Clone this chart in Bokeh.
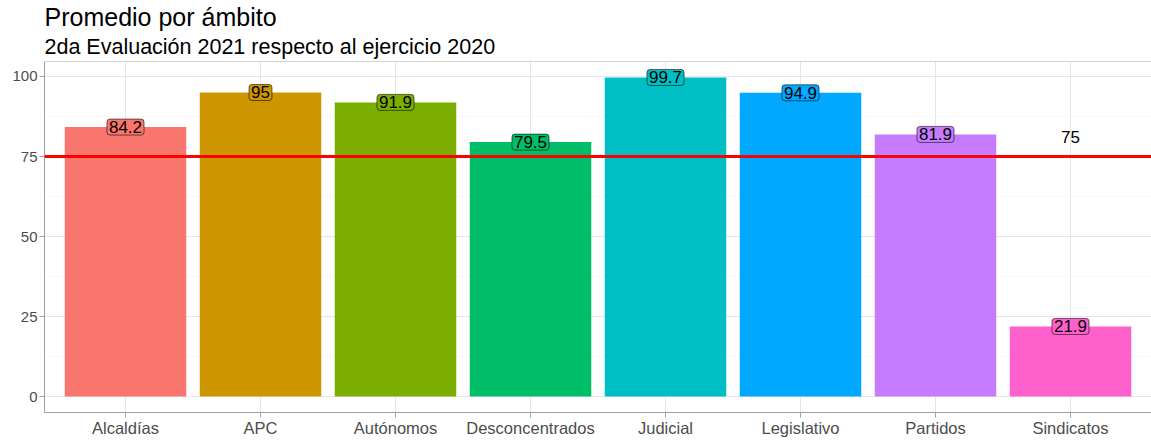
from bokeh.plotting import figure
from bokeh.models import ColumnDataSource, FactorRange, Range1d, FixedTicker, Title, Span
from bokeh.core.properties import value
from bokeh.embed import file_html
from bokeh.resources import INLINE

categories = ["Alcaldías", "APC", "Autónomos", "Desconcentrados", "Judicial",
              "Legislativo", "Partidos", "Sindicatos"]
promedio = [84.2, 95.0, 91.9, 79.5, 99.7, 94.9, 81.9, 21.9]
labels = ["84.2", "95", "91.9", "79.5", "99.7", "94.9", "81.9", "21.9"]
colors = ["#F8766D", "#CD9600", "#7CAE00", "#00BE67", "#00BFC4", "#00A9FF", "#C77CFF", "#FF61CC"]
threshold = 75
threshold_label = "75"
y_ticks = [0, 25, 50, 75, 100]
y_minor = [12.5, 37.5, 62.5, 87.5]

FONT = "Liberation Sans"
ymax = max(promedio)

src = ColumnDataSource(dict(cat=categories, val=promedio, lab=labels, col=colors))

p = figure(width=1151, height=445, output_backend="svg", toolbar_location=None,
           x_range=FactorRange(factors=categories, range_padding=0.1,
                               range_padding_units="absolute"),
           y_range=Range1d(-0.05 * ymax, 1.05 * ymax),
           min_border_left=44, min_border_right=0, min_border_bottom=33, min_border_top=0)

p.title.visible = False
p.add_layout(Title(text="2da Evaluación 2021 respecto al ejercicio 2020", text_font=FONT,
                   text_font_size="21.5px", text_font_style="normal", text_color="#000000",
                   align="left", standoff=5), "above")
p.add_layout(Title(text="Promedio por ámbito", text_font=FONT,
                   text_font_size="25px", text_font_style="normal", text_color="#000000",
                   align="left", standoff=0), "above")

p.background_fill_color = "white"
p.border_fill_color = "white"
p.outline_line_color = None

p.vbar(x="cat", top="val", bottom=0, width=0.9, source=src, fill_color="col", line_color=None)

p.add_layout(Span(location=threshold, dimension="width", line_color="#FF0000", line_width=3))
p.add_layout(Span(location=1.05 * ymax, dimension="width", line_color="#a6a6a6", line_width=1))

p.text(x="cat", y="val", text="lab", source=src, text_font=value(FONT), text_font_size="17px",
       text_color="black", text_align="center", text_baseline="middle",
       background_fill_color="col", border_line_color="black", border_line_width=0.7,
       border_line_alpha=0.8, padding=2, border_radius=3)

p.text(x=[categories[-1]], y=[threshold], text=[threshold_label], text_font=value(FONT),
       text_font_size="17px", text_color="black", text_align="center",
       text_baseline="middle", y_offset=-20)

p.yaxis.ticker = FixedTicker(ticks=y_ticks, minor_ticks=y_minor)
for ax in (p.xaxis[0], p.yaxis[0]):
    ax.axis_line_color = "#a0a0a0"
    ax.major_tick_line_color = "#a0a0a0"
    ax.major_tick_out = 5
    ax.major_tick_in = 0
    ax.minor_tick_line_color = None
    ax.major_label_text_font = FONT
    ax.major_label_text_color = "#4d4d4d"
p.xaxis.major_label_text_font_size = "16.5px"
p.xaxis.major_label_standoff = 1
p.yaxis.major_label_text_font_size = "15px"
p.yaxis.major_label_standoff = 2

p.xgrid.grid_line_color = "#e6e6e6"
p.ygrid.grid_line_color = "#e6e6e6"
p.ygrid.minor_grid_line_color = "#f2f2f2"
p.ygrid.minor_grid_line_width = 0.6

open("out.html", "w").write(file_html(p, INLINE))
